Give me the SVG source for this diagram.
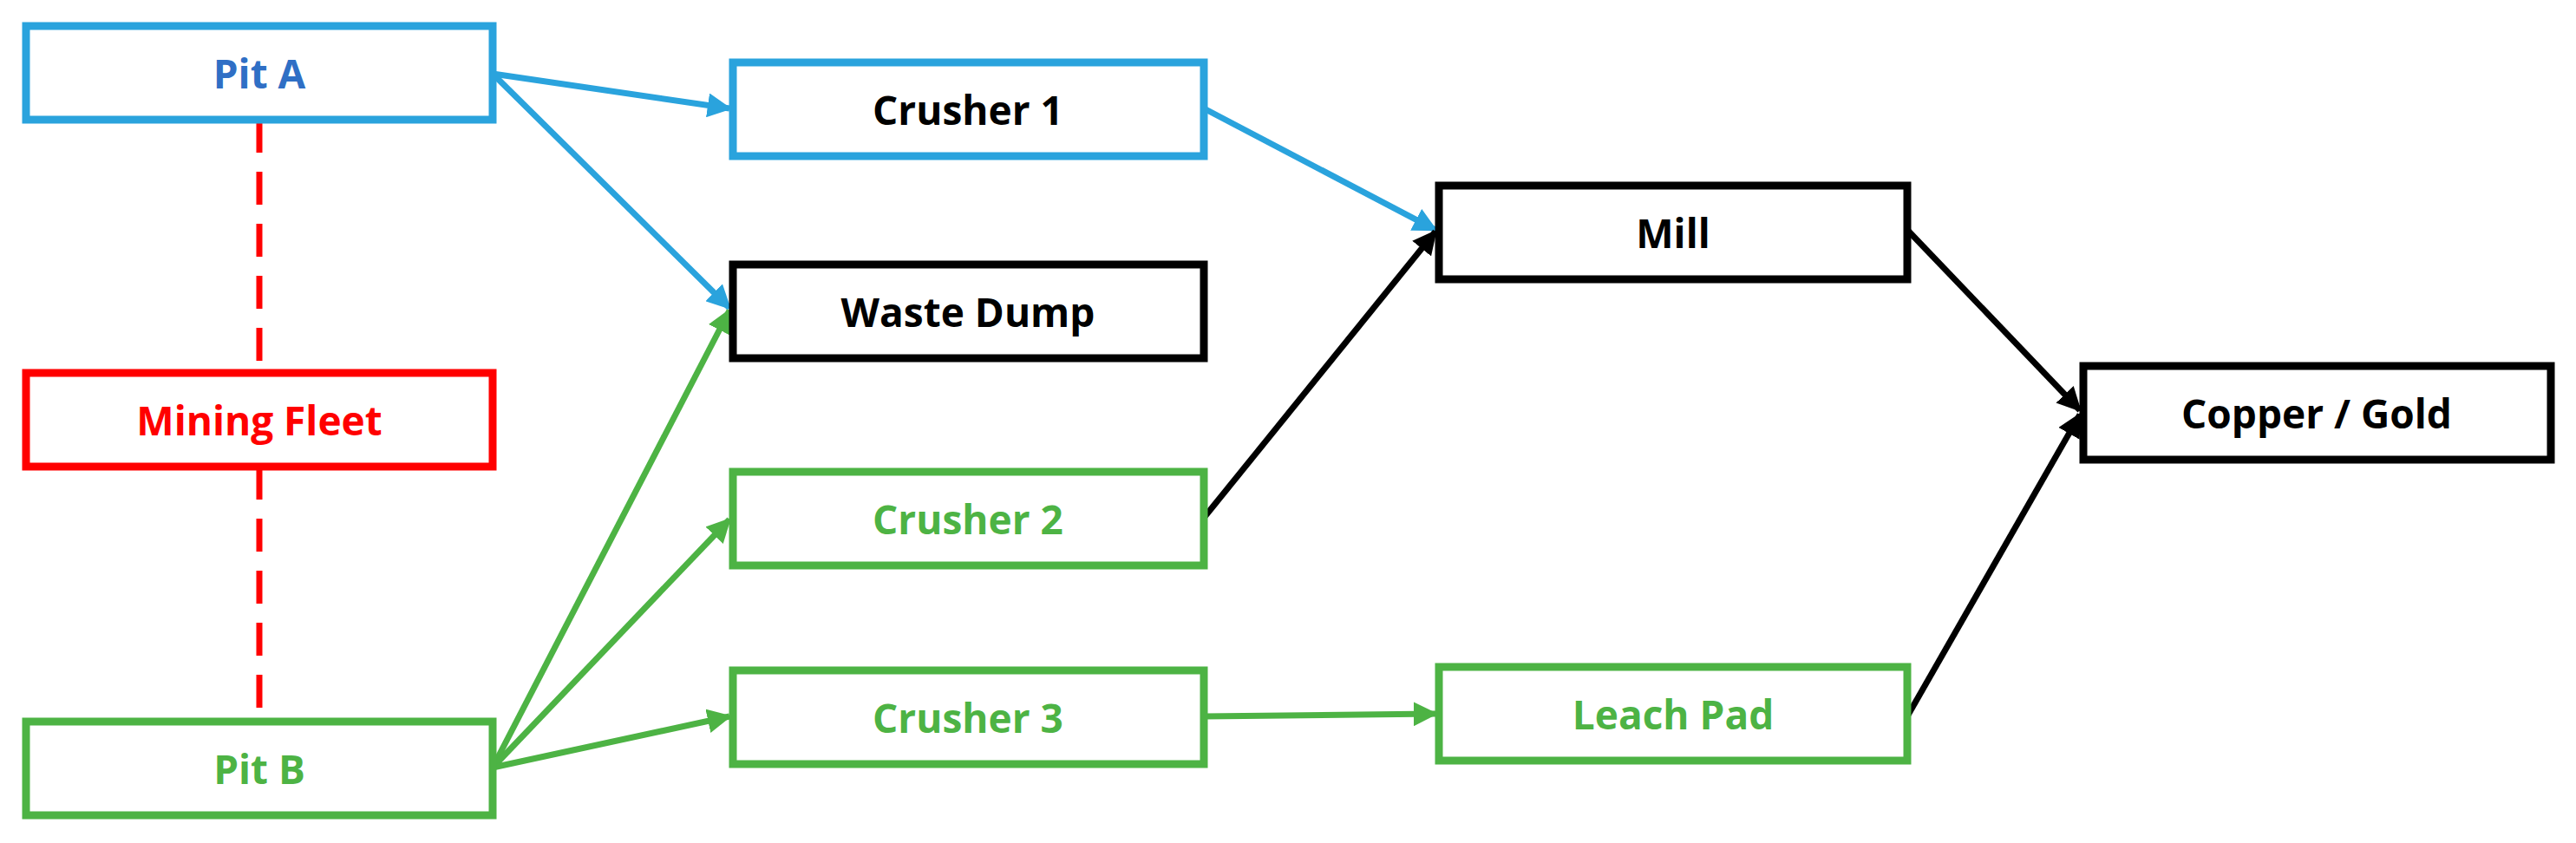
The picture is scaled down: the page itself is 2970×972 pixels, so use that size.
<svg xmlns="http://www.w3.org/2000/svg" width="2970" height="972" viewBox="0 0 2970 972">
<style>
rect{fill:#fff;stroke-width:9}
text{font-family:"Open Sans","Liberation Sans",sans-serif;font-weight:bold;font-size:46px;text-anchor:middle;dominant-baseline:central}
.b{stroke:#2aa3dd}.g{stroke:#4db344}.k{stroke:#000}.r{stroke:#ff0000}
.c line{stroke-width:7;fill:none}
</style>
<defs>
<marker id="ab" viewBox="0 0 10 10" refX="9" refY="5" markerWidth="4" markerHeight="4" orient="auto"><path d="M0,0L10,5L0,10z" fill="#2aa3dd"/></marker>
<marker id="ag" viewBox="0 0 10 10" refX="9" refY="5" markerWidth="4" markerHeight="4" orient="auto"><path d="M0,0L10,5L0,10z" fill="#4db344"/></marker>
<marker id="ak" viewBox="0 0 10 10" refX="9" refY="5" markerWidth="4" markerHeight="4" orient="auto"><path d="M0,0L10,5L0,10z" fill="#000"/></marker>
</defs>
<g class="c" id="connectors">
<line class="r" x1="299" y1="138" x2="299" y2="428" stroke-dasharray="38,22"/>
<line class="r" x1="299" y1="538" x2="299" y2="830" stroke-dasharray="38,22"/>
<line class="b" x1="568" y1="85" x2="841" y2="125" marker-end="url(#ab)"/>
<line class="b" x1="568" y1="85" x2="841" y2="355" marker-end="url(#ab)"/>
<line class="b" x1="1388" y1="125" x2="1655" y2="265" marker-end="url(#ab)"/>
<line class="g" x1="568" y1="885" x2="841" y2="358" marker-end="url(#ag)"/>
<line class="g" x1="568" y1="885" x2="841" y2="599" marker-end="url(#ag)"/>
<line class="g" x1="568" y1="885" x2="841" y2="826" marker-end="url(#ag)"/>
<line class="g" x1="1388" y1="826" x2="1655" y2="823" marker-end="url(#ag)"/>
<line class="k" x1="1388" y1="597" x2="1655" y2="267" marker-end="url(#ak)"/>
<line class="k" x1="2199" y1="265" x2="2398" y2="473" marker-end="url(#ak)"/>
<line class="k" x1="2199" y1="826" x2="2398" y2="478" marker-end="url(#ak)"/>
</g>
<g id="pitA"><rect class="b" x="30" y="30" width="538" height="108"/><text x="299" y="84" fill="#2f6fc5">Pit A</text></g>
<g id="fleet"><rect class="r" x="30" y="430" width="538" height="108"/><text x="299" y="484" fill="#ff0000">Mining Fleet</text></g>
<g id="pitB"><rect class="g" x="30" y="832" width="538" height="108"/><text x="299" y="886" fill="#4db344">Pit B</text></g>
<g id="crusher1"><rect class="b" x="845" y="72" width="543" height="108"/><text x="1116" y="126" fill="#000">Crusher 1</text></g>
<g id="waste"><rect class="k" x="845" y="305" width="543" height="108"/><text x="1116" y="359" fill="#000">Waste Dump</text></g>
<g id="crusher2"><rect class="g" x="845" y="544" width="543" height="108"/><text x="1116" y="598" fill="#4db344">Crusher 2</text></g>
<g id="crusher3"><rect class="g" x="845" y="773" width="543" height="108"/><text x="1116" y="827" fill="#4db344">Crusher 3</text></g>
<g id="mill"><rect class="k" x="1659" y="214" width="540" height="108"/><text x="1929" y="268" fill="#000">Mill</text></g>
<g id="leach"><rect class="g" x="1659" y="769" width="540" height="108"/><text x="1929" y="823" fill="#4db344">Leach Pad</text></g>
<g id="copper"><rect class="k" x="2402" y="422" width="539" height="108"/><text x="2671" y="476" fill="#000">Copper / Gold</text></g>
</svg>
